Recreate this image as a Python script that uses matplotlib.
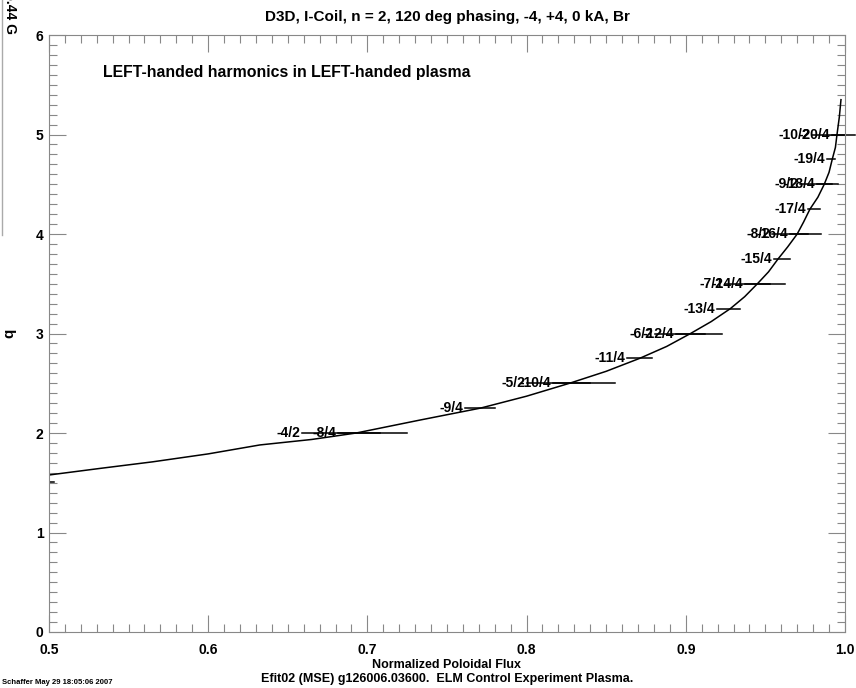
import matplotlib
matplotlib.use("Agg")
import matplotlib.pyplot as plt
from matplotlib.lines import Line2D
from matplotlib.ticker import MultipleLocator

plt.rcParams['font.family'] = ['Liberation Sans Narrow', 'Liberation Sans', 'DejaVu Sans']
plt.rcParams['font.weight'] = 'bold'

# q profile (normalized poloidal flux, q)
psi = [0.5, 0.5325, 0.5650, 0.6000, 0.6325, 0.6650, 0.693, 0.733, 0.771, 0.800, 0.827,
       0.850, 0.871, 0.888, 0.903, 0.916, 0.928, 0.937, 0.945, 0.952, 0.958, 0.964,
       0.970, 0.974, 0.978, 0.983, 0.987, 0.990, 0.992, 0.994, 0.995, 0.9965, 0.9975]
q = [1.578, 1.645, 1.71, 1.79, 1.88, 1.935, 2.0, 2.13, 2.25, 2.37, 2.5,
     2.62, 2.75, 2.87, 3.0, 3.12, 3.25, 3.37, 3.5, 3.62, 3.75, 3.87,
     4.0, 4.12, 4.25, 4.37, 4.5, 4.62, 4.75, 4.87, 5.0, 5.18, 5.35]

# n = 2 harmonics: label, q, line start, line end
n2_labels = ["-4/2", "-5/2", "-6/2", "-7/2", "-8/2", "-9/2", "-10/2"]
n2_q = [2.0, 2.5, 3.0, 3.5, 4.0, 4.5, 5.0]
n2_lo = [0.6589, 0.8003, 0.8807, 0.9246, 0.9541, 0.9717, 0.9793]
n2_hi = [0.7249, 0.8555, 0.9227, 0.9623, 0.9849, 0.9956, 1.0063]

# n = 4 harmonics
n4_labels = ["-8/4", "-9/4", "-10/4", "-11/4", "-12/4", "-13/4", "-14/4",
             "-15/4", "-16/4", "-17/4", "-18/4", "-19/4", "-20/4"]
n4_q = [2.0, 2.25, 2.5, 2.75, 3.0, 3.25, 3.5, 3.75, 4.0, 4.25, 4.5, 4.75, 5.0]
n4_lo = [0.6815, 0.7613, 0.8166, 0.8631, 0.8938, 0.9196, 0.9372,
         0.9554, 0.9655, 0.9768, 0.9824, 0.9887, 0.9918]
n4_hi = [0.7079, 0.7802, 0.8398, 0.8788, 0.9121, 0.9340, 0.9529,
         0.9655, 0.9768, 0.9843, 0.9918, 0.9937, 1.0]

fig = plt.figure(figsize=(8.56, 6.88), dpi=100)
ax = fig.add_axes([0.0572, 0.0814, 0.9299, 0.8677])

ax.plot(psi, q, color='black', lw=1.1)
# small mark for q = 3/2 just inside the left edge
ax.plot([0.5005, 0.503], [1.51, 1.51], color='black', lw=1.1)

for lab, qq, lo, hi in zip(n2_labels + n4_labels, n2_q + n4_q, n2_lo + n4_lo, n2_hi + n4_hi):
    ax.plot([lo, hi], [qq, qq], color='black', lw=1.1, clip_on=False)
    ax.text(lo - 0.001, qq, lab, ha='right', va='center', fontsize=10, fontweight='bold')

ax.set_xlim(0.5, 1.0)
ax.set_ylim(0, 6)
ax.xaxis.set_minor_locator(MultipleLocator(0.01))
ax.yaxis.set_minor_locator(MultipleLocator(0.1))
ax.tick_params(which='both', direction='in', top=True, right=True, color='#888888',
               labelsize=10, width=0.8)
ax.tick_params(which='major', length=12)
ax.tick_params(which='minor', length=6)
ax.tick_params(axis='x', which='major', pad=8)
ax.tick_params(axis='y', which='major', pad=4)
ax.set_xticks([0.5, 0.6, 0.7, 0.8, 0.9, 1.0])
ax.set_xticklabels(["0.5", "0.6", "0.7", "0.8", "0.9", "1.0"], fontweight='bold')
ax.set_yticks([0, 1, 2, 3, 4, 5, 6])
ax.set_yticklabels(["0", "1", "2", "3", "4", "5", "6"], fontweight='bold')
for s in ax.spines.values():
    s.set_color('#888888')
    s.set_linewidth(0.8)

ax.set_title("D3D, I-Coil, n = 2, 120 deg phasing, -4, +4, 0 kA, Br",
             fontsize=11, fontweight='bold', pad=10)
ax.set_ylabel("q", fontsize=11, fontweight='bold', labelpad=14)
ax.text(0.068, 0.938, "LEFT-handed harmonics in LEFT-handed plasma",
        transform=ax.transAxes, fontsize=11.4, fontweight='bold', va='center')

fig.text(0.522, 1 - 665 / 688, "Normalized Poloidal Flux",
         fontsize=9, fontweight='bold', ha='center', va='center')
fig.text(0.522, 1 - 679 / 688, "Efit02 (MSE) g126006.03600.  ELM Control Experiment Plasma.",
         fontsize=9, fontweight='bold', ha='center', va='center')
fig.text(0.002, 1 - 683 / 688, "Schaffer May 29 18:05:06 2007", fontsize=5.5, va='center')
fig.text(0.012, 1.012, "5.44 G", rotation=270, fontsize=10, fontweight='bold',
         ha='center', va='top')
fig.add_artist(Line2D([0.0025, 0.0025], [1.0, 0.658], color='#aaaaaa', lw=1.0,
                      transform=fig.transFigure))

fig.savefig("out.png", dpi=100)
